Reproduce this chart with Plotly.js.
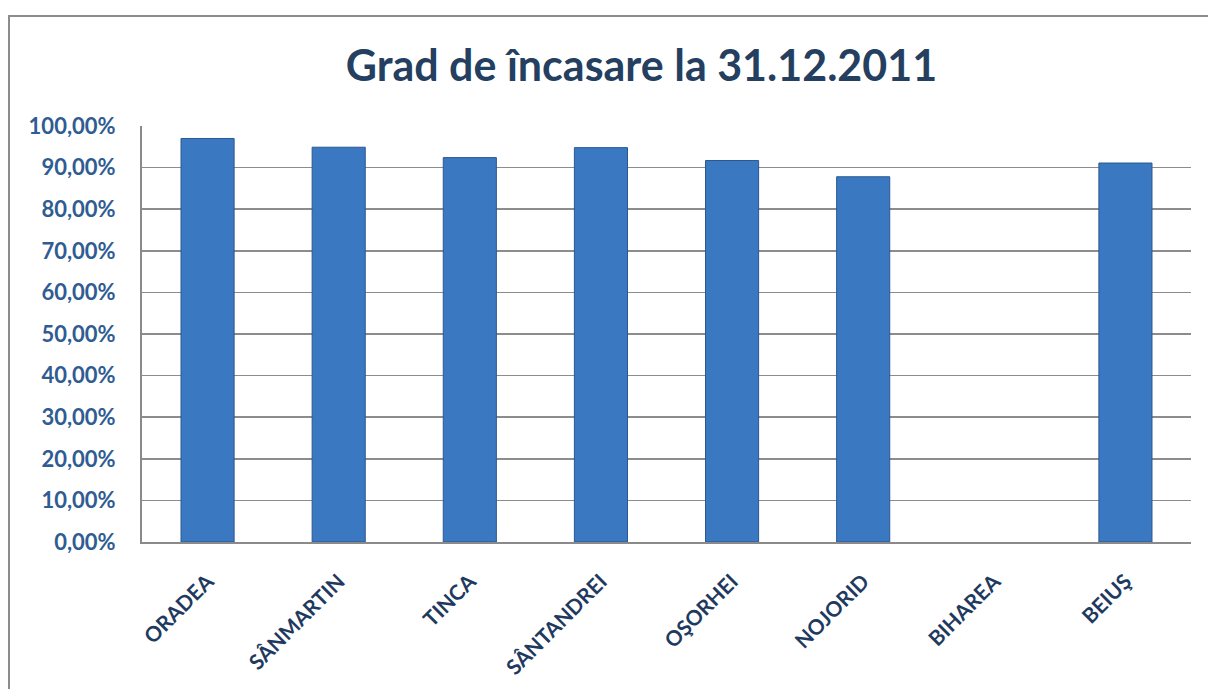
<!DOCTYPE html>
<html>
<head>
<meta charset="utf-8">
<script src="https://cdn.plot.ly/plotly-3.0.1.min.js"></script>
<style>
  html, body { margin: 0; padding: 0; background: #ffffff; overflow: hidden; }
  #chart { width: 1208px; height: 689px; }
  #frame { position: absolute; left: 8px; top: 15px; width: 1300px; height: 800px;
           border: 2px solid #8c8c8c; pointer-events: none; box-sizing: border-box; }
</style>
</head>
<body>
<div id="chart"></div>
<div id="frame"></div>
<script>
const categories = ["ORADEA", "SÂNMARTIN", "TINCA", "SÂNTANDREI", "OŞORHEI", "NOJORID", "BIHAREA", "BEIUŞ"];
const values = [0.970, 0.949, 0.924, 0.948, 0.917, 0.878, 0, 0.911];
const yTicks = [0, 0.1, 0.2, 0.3, 0.4, 0.5, 0.6, 0.7, 0.8, 0.9, 1.0];

const trace = {
  type: "bar",
  x: categories,
  y: values,
  width: 0.405,
  marker: {
    color: "#3b78c2",
    line: { color: "#2b5890", width: values.map(v => (v > 0 ? 1 : 0)) }
  },
  hoverinfo: "x+y"
};

const layout = {
  width: 1208,
  height: 689,
  paper_bgcolor: "#ffffff",
  plot_bgcolor: "#ffffff",
  separators: ",.",
  margin: { l: 142, r: 17, t: 126, b: 147 },
  showlegend: false,
  title: {
    text: "<b>Grad de încasare la 31.12.2011</b>",
    font: { family: "Lato, 'Open Sans', sans-serif", size: 43, color: "#243f60" },
    x: 0.531, xref: "container", xanchor: "center",
    y: 0.905, yref: "container", yanchor: "middle"
  },
  xaxis: {
    type: "category",
    showline: true, linecolor: "#8a8a8a", linewidth: 2,
    showgrid: false, ticks: "", tickangle: -45,
    ticklabelstandoff: 17,
    tickfont: { family: "Lato, sans-serif", size: 21, color: "#1f3a5f", weight: "bold" }
  },
  yaxis: {
    range: [0, 1],
    tickvals: yTicks,
    tickformat: ".2%",
    showline: true, linecolor: "#8a8a8a", linewidth: 2,
    showgrid: true, gridcolor: "#8c8c8c", gridwidth: 1.5,
    zeroline: false, ticks: "",
    ticklabelstandoff: 20,
    tickfont: { family: "Lato, sans-serif", size: 22, color: "#2f5c92", weight: "bold" }
  },
  bargap: 0.595
};

Plotly.newPlot("chart", [trace], layout, { displayModeBar: false, staticPlot: true });
</script>
</body>
</html>
